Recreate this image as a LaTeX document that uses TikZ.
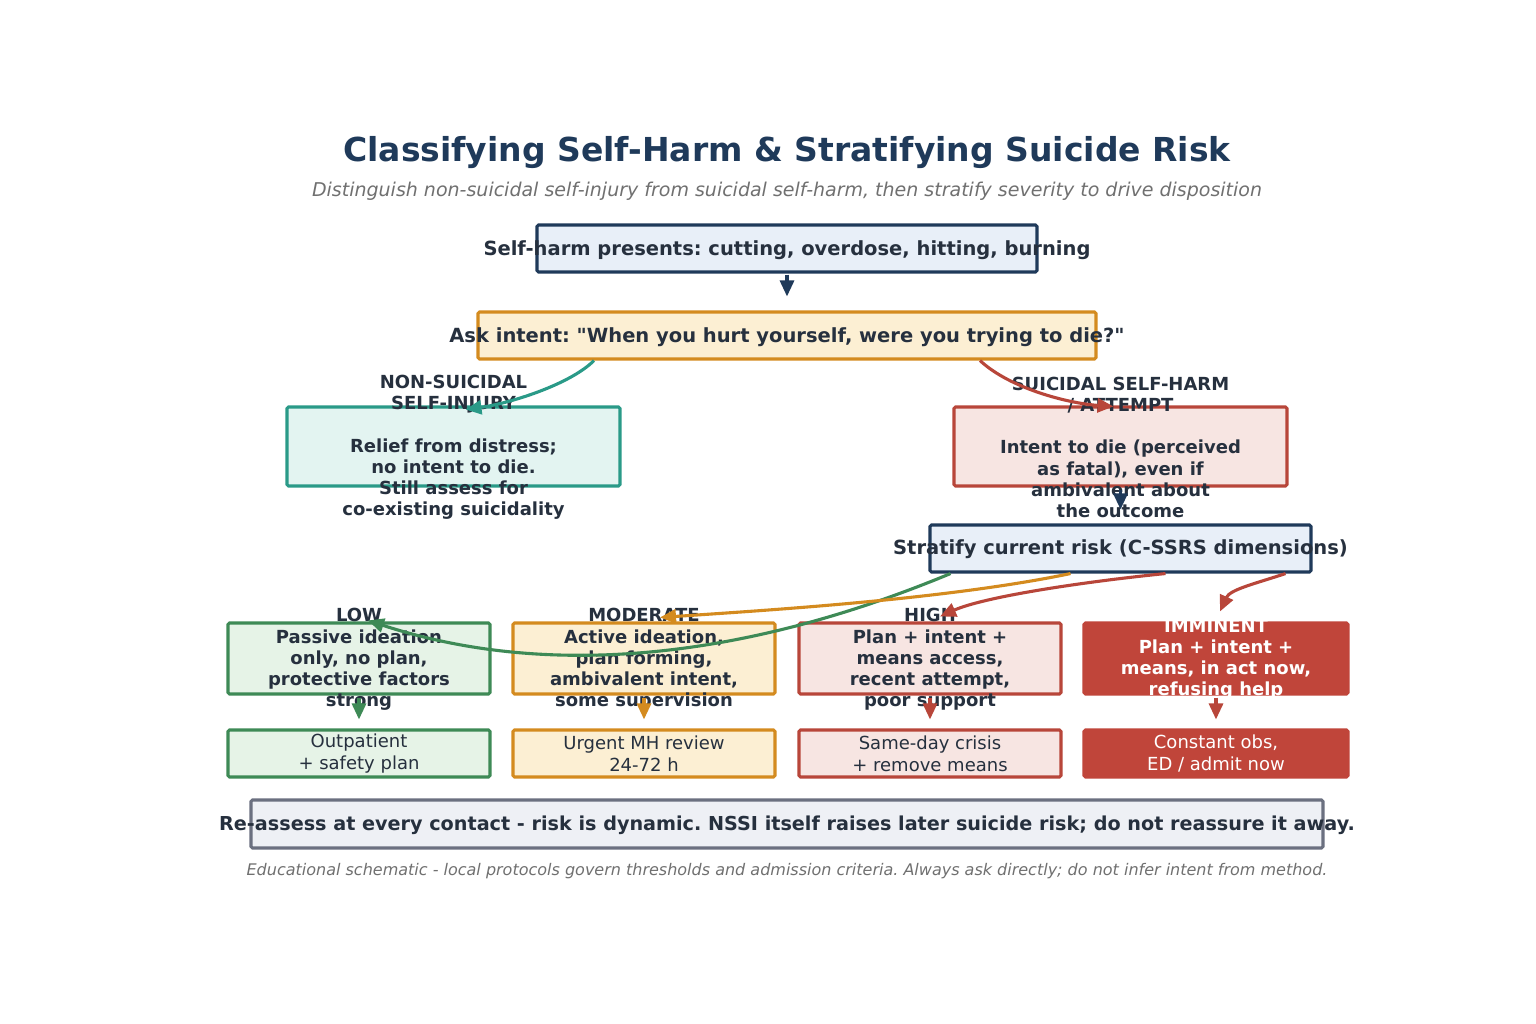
\documentclass[tikz,border=0pt]{standalone}
\usepackage{fontspec}
\setmainfont{DejaVu Sans}
\usepackage{xcolor}
\usetikzlibrary{arrows.meta, positioning}
\frenchspacing

\definecolor{navy}{HTML}{1F3A5A}
\definecolor{ink}{HTML}{26303E}
\definecolor{subgray}{HTML}{707070}
\definecolor{bluefill}{HTML}{E8EFF8}
\definecolor{ambr}{HTML}{D48B1F}
\definecolor{ambrfill}{HTML}{FCEFD3}
\definecolor{tealc}{HTML}{2A9A88}
\definecolor{tealfill}{HTML}{E3F4F1}
\definecolor{redc}{HTML}{B8463A}
\definecolor{redfill}{HTML}{F7E5E2}
\definecolor{grn}{HTML}{3E8A56}
\definecolor{grnfill}{HTML}{E6F3E7}
\definecolor{immred}{HTML}{C0453A}
\definecolor{slate}{HTML}{6B7080}
\definecolor{slatefill}{HTML}{EEF0F5}

\begin{document}
\begin{tikzpicture}[x=1pt, y=-1pt,
    box/.style={rectangle, line width=3.1pt, rounded corners=1.5pt, inner sep=0pt},
    widebox/.style={box, minimum height=47pt},
    groupbox/.style={box, minimum width=333pt, minimum height=79pt},
    riskbox/.style={box, minimum width=262pt, minimum height=71pt},
    planbox/.style={box, minimum width=262pt, minimum height=47pt},
    boldtext/.style={align=center, font=\fontsize{18}{21.2}\selectfont\bfseries, text=ink},
    bannertext/.style={align=center, font=\fontsize{19.5}{23}\selectfont\bfseries, text=ink},
    plaintext/.style={align=center, font=\fontsize{18}{22}\selectfont, text=ink},
    arrow/.style={-{Triangle[length=16pt,width=14pt]}, line width=3.1pt},
]

\fill[white] (0,0) rectangle (1536,1024);

% Title
\node[font=\fontsize{33}{40}\selectfont\bfseries, text=navy] (title) at (787,153) {Classifying Self-Harm \& Stratifying Suicide Risk};
\node[font=\fontsize{19}{22}\selectfont\itshape, text=subgray] (subtitle) at (787,191) {Distinguish non-suicidal self-injury from suicidal self-harm, then stratify severity to drive disposition};

% Presentation and intent question
\node[widebox, draw=navy, fill=bluefill, minimum width=500pt] (present) at (787,248.5) {};
\node[bannertext] at ([yshift=-1.5pt]present) {Self-harm presents: cutting, overdose, hitting, burning};
\node[widebox, draw=ambr, fill=ambrfill, minimum width=618pt] (intent) at (787,335.5) {};
\node[bannertext] at ([yshift=-1.5pt]intent) {Ask intent: \textquotedbl When you hurt yourself, were you trying to die?\textquotedbl};
\draw[arrow, navy, shorten <=1pt, shorten >=14pt] (present.south) -- (intent.north);

% Two branches
\node[groupbox, draw=tealc, fill=tealfill] (nssi) at (453.5,446.5) {};
\node[boldtext] at ([yshift=-1pt]nssi) {NON-SUICIDAL\\SELF-INJURY\\[21pt]Relief from distress;\\no intent to die.\\Still assess for\\co-existing suicidality};
\node[groupbox, draw=redc, fill=redfill] (suicidal) at (1120.5,446.5) {};
\node[boldtext] at ([yshift=-1pt]suicidal) {SUICIDAL SELF-HARM\\/ ATTEMPT\\[21pt]Intent to die (perceived\\as fatal), even if\\ambivalent about\\the outcome};

\draw[arrow, tealc] ([xshift=-193pt]intent.south) .. controls +(-24,24) and +(44,-6) .. ([xshift=12pt, yshift=-4pt]nssi.north);
\draw[arrow, redc] ([xshift=193pt]intent.south) .. controls +(30,28) and +(-45,-3) .. ([xshift=-7pt, yshift=-1pt]suicidal.north);

% Stratify
\node[widebox, draw=navy, fill=bluefill, minimum width=381pt] (stratify) at (1120.5,548.5) {};
\node[bannertext] at ([yshift=-1pt]stratify) {Stratify current risk (C-SSRS dimensions)};
\draw[arrow, navy, shorten <=2pt, shorten >=14pt] (suicidal.south) -- (stratify.north);

% Risk levels
\node[riskbox, draw=grn, fill=grnfill] (low) at (359,658.5) {};
\node[boldtext] at ([yshift=-1pt]low) {LOW\\Passive ideation\\only, no plan,\\protective factors\\strong};
\node[riskbox, draw=ambr, fill=ambrfill] (moderate) at (644,658.5) {};
\node[boldtext] at ([yshift=-1pt]moderate) {MODERATE\\Active ideation,\\plan forming,\\ambivalent intent,\\some supervision};
\node[riskbox, draw=redc, fill=redfill] (high) at (930,658.5) {};
\node[boldtext] at ([yshift=-1pt]high) {HIGH\\Plan + intent +\\means access,\\recent attempt,\\poor support};
\node[riskbox, draw=immred, fill=immred, minimum width=264pt] (imminent) at (1216,658.5) {};
\node[boldtext, text=white] at ([yshift=-1pt]imminent) {IMMINENT\\Plan + intent +\\means, in act now,\\refusing help};

\draw[arrow, grn] ([xshift=-170pt]stratify.south) .. controls +(-214,89) and +(174,57) .. ([xshift=9pt, yshift=1pt]low.north);
\draw[arrow, ambr] ([xshift=-50pt]stratify.south) .. controls +(-120,25) and +(120,-8) .. ([xshift=16pt, yshift=4pt]moderate.north);
\draw[arrow, redc] ([xshift=45pt]stratify.south) .. controls +(-80,8) and +(45,-20) .. ([xshift=10pt, yshift=5pt]high.north);
\draw[arrow, redc] ([xshift=165pt]stratify.south) .. controls +(-30,10) and +(10,-22) .. ([xshift=4pt, yshift=10pt]imminent.north);

% Dispositions
\node[planbox, draw=grn, fill=grnfill] (lowplan) at (359,753.5) {};
\node[plaintext] at (lowplan) {Outpatient\\+ safety plan};
\node[planbox, draw=ambr, fill=ambrfill] (modplan) at (644,753.5) {};
\node[plaintext] at (modplan) {Urgent MH review\\24-72 h};
\node[planbox, draw=redc, fill=redfill] (highplan) at (930,753.5) {};
\node[plaintext] at (highplan) {Same-day crisis\\+ remove means};
\node[planbox, draw=immred, fill=immred, minimum width=264pt] (immplan) at (1216,753.5) {};
\node[plaintext, text=white] at (immplan) {Constant obs,\\ED / admit now};

\draw[arrow, grn, shorten <=2pt, shorten >=9pt] (low.south) -- (lowplan.north);
\draw[arrow, ambr, shorten <=2pt, shorten >=9pt] (moderate.south) -- (modplan.north);
\draw[arrow, redc, shorten <=2pt, shorten >=9pt] (high.south) -- (highplan.north);
\draw[arrow, redc, shorten <=2pt, shorten >=9pt] (imminent.south) -- (immplan.north);

% Reassess banner and footnote
\node[box, draw=slate, fill=slatefill, minimum width=1072pt, minimum height=48pt] (reassess) at (787,824) {};
\node[bannertext, font=\fontsize{19.2}{23}\selectfont\bfseries] at ([yshift=-1pt]reassess) {Re-assess at every contact - risk is dynamic. NSSI itself raises later suicide risk; do not reassure it away.};
\node[font=\fontsize{16}{19}\selectfont\itshape, text=subgray] (footnote) at (787,871) {Educational schematic - local protocols govern thresholds and admission criteria. Always ask directly; do not infer intent from method.};

\end{tikzpicture}
\end{document}
